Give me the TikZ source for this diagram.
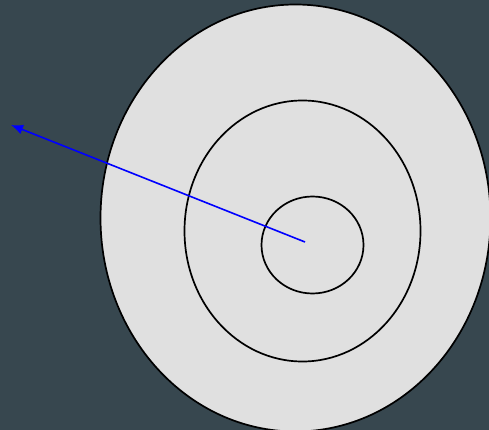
\documentclass[tikz,border=0pt]{standalone}
\usetikzlibrary{shapes.geometric,arrows.meta}
\definecolor{bgc}{HTML}{37474F}
\definecolor{ringfill}{HTML}{E0E0E0}
\begin{document}
\begin{tikzpicture}[x=1pt,y=-1pt,
  ring/.style={ellipse,draw=black,line width=1.7pt,inner sep=0pt},
  pointer/.style={draw=blue,line width=1.6pt,-{Latex[length=12pt,width=10pt]}}]
\fill[bgc] (0,0) rectangle (489,430);
\useasboundingbox (0,0) rectangle (489,430);
\begin{scope}
\clip (0,0) rectangle (489,430);
\node[ring,fill=ringfill,minimum width=390pt,minimum height=427pt] (outer) at (295.5,218) {};
\end{scope}
\node[ring,minimum width=236pt,minimum height=261pt] (middle) at (302.5,231) {};
\node[ring,minimum width=102pt,minimum height=97pt] (inner) at (312.5,245) {};
\coordinate (start) at (305,242);
\coordinate (tip) at (11,125);
\draw[pointer] (start) -- (tip);
\end{tikzpicture}
\end{document}
